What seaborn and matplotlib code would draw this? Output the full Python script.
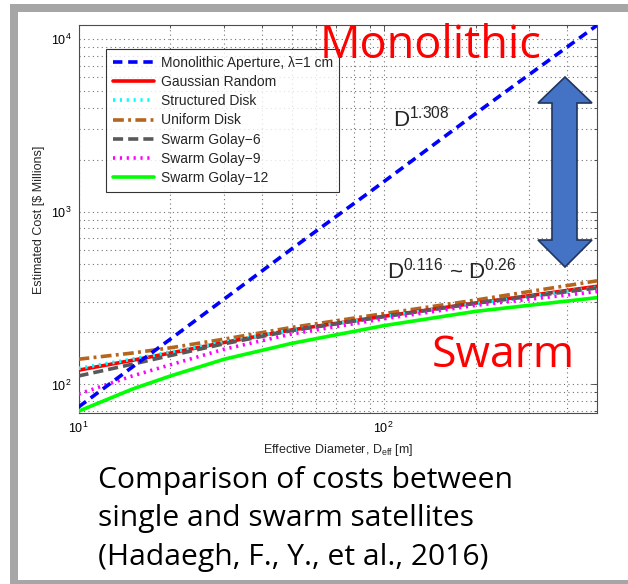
import matplotlib
matplotlib.use("Agg")
import matplotlib.pyplot as plt
import seaborn as sns
import pandas as pd
from matplotlib.patches import Polygon, Rectangle
from matplotlib.ticker import LogLocator, NullFormatter

# ---------------- data ----------------
diam = [10, 15, 20, 30, 50, 100, 200, 500]
monolithic = [74, 126, 183, 312, 610, 1490, 3700, 12000]
gaussian = [121, 138, 152, 175, 207, 248, 296, 370]
structured = [124, 140, 154, 176, 207, 247, 294, 365]
uniform = [140, 152, 163, 183, 214, 257, 308, 398]
golay6 = [112, 131, 147, 172, 205, 247, 295, 362]
golay9 = [88, 112, 130, 160, 196, 240, 287, 345]
golay12 = [70, 94, 112, 140, 173, 219, 265, 318]

series_names = ["Monolithic Aperture, \u03bb=1 cm", "Gaussian Random", "Structured Disk",
                "Uniform Disk", "Swarm Golay\u22126", "Swarm Golay\u22129", "Swarm Golay\u221212"]
series_vals = [monolithic, gaussian, structured, uniform, golay6, golay9, golay12]

# ---------------- style ----------------
sns.set_theme(style="white")
plt.rcParams["font.family"] = ["Liberation Sans", "DejaVu Sans"]
plt.rcParams["mathtext.fontset"] = "custom"
plt.rcParams["mathtext.rm"] = "Liberation Sans"
plt.rcParams["mathtext.it"] = "Liberation Sans:italic"
plt.rcParams["mathtext.bf"] = "Liberation Sans:bold"

W, H = 628, 584
fig = plt.figure(figsize=(W / 100, H / 100), dpi=100)
fig.patch.set_facecolor("white")

ax = fig.add_axes([78.5 / W, 1 - 413.4 / H, (597 - 78.5) / W, (413.4 - 25.3) / H])

styles = [
    dict(color="#0000ff", linestyle=(0, (2.6, 1.6)), linewidth=2.6, zorder=10),
    dict(color="#ff0000", linestyle="-", linewidth=2.6, zorder=5),
    dict(color="#00ffff", linestyle=(0, (0.6, 1.3)), linewidth=2.6, zorder=6),
    dict(color="#b5651d", linestyle=(0, (3.0, 1.2, 0.8, 1.2)), linewidth=2.6, zorder=4),
    dict(color="#595959", linestyle=(0, (2.8, 1.4)), linewidth=2.6, zorder=7),
    dict(color="#ff00ff", linestyle=(0, (0.6, 1.3)), linewidth=2.6, zorder=8),
    dict(color="#00ff00", linestyle="-", linewidth=2.6, zorder=9),
]

for name, vals, st in zip(series_names, series_vals, styles):
    df = pd.DataFrame({"D": diam, "cost": vals})
    sns.lineplot(data=df, x="D", y="cost", ax=ax, label=name, **st)

ax.set_xscale("log")
ax.set_yscale("log")
ax.set_xlim(10, 500)
ax.set_ylim(68, 12000)

ax.xaxis.set_minor_locator(LogLocator(base=10, subs=range(2, 10)))
ax.yaxis.set_minor_locator(LogLocator(base=10, subs=range(2, 10)))
ax.xaxis.set_minor_formatter(NullFormatter())
ax.yaxis.set_minor_formatter(NullFormatter())

ax.grid(True, which="both", color="0.45", linestyle=(0, (1, 3)), linewidth=0.8)
ax.tick_params(which="both", direction="in", top=True, right=True, colors="0.25",
               labelcolor="black", labelsize=9)
ax.tick_params(which="major", length=4, width=0.6, pad=5)
ax.tick_params(which="minor", length=2.5, width=0.6)
for sp in ax.spines.values():
    sp.set_color("0.3")
    sp.set_linewidth(0.8)

ax.set_xlabel("Effective Diameter, D$_{\\mathrm{eff}}$ [m]", fontsize=9, labelpad=5)
ax.set_ylabel("Estimated Cost [$ Millions]", fontsize=9, labelpad=4)

leg = ax.legend(loc="upper left", bbox_to_anchor=(0.054, 0.938), borderaxespad=0,
                fontsize=10, frameon=True, fancybox=False, edgecolor="black",
                handlelength=3.0, handletextpad=0.45, labelspacing=0.38,
                borderpad=0.45)
leg.get_frame().set_linewidth(0.8)
leg.set_zorder(20)

# ---------------- annotations ----------------
ax.text(393 / W, 1 - 126.7 / H, "D$^{1.308}$", transform=fig.transFigure,
        fontsize=16, ha="left", va="baseline", zorder=25)
ax.text(387 / W, 1 - 278 / H, "D$^{0.116}$ ~ D$^{0.26}$", transform=fig.transFigure,
        fontsize=16, ha="left", va="baseline", zorder=25)

fig.text(320 / W, 1 - 58.3 / H, "Monolithic", color="#ff0000", fontsize=32.5,
         family=["Open Sans", "DejaVu Sans"], ha="left", va="baseline", zorder=30)
fig.text(432 / W, 1 - 366.8 / H, "Swarm", color="#ff0000", fontsize=32,
         family=["Open Sans", "DejaVu Sans"], ha="left", va="baseline", zorder=30)

caption = ["Comparison of costs between", "single and swarm satellites",
           "(Hadaegh, F., Y., et al., 2016)"]
for i, line in enumerate(caption):
    fig.text(98 / W, 1 - (488 + 38.3 * i) / H, line, fontsize=21.6,
             family=["Open Sans", "DejaVu Sans"], ha="left", va="baseline", color="black")

# double arrow (pixel coords -> figure coords)
pts_px = [(565, 77), (592, 103), (577, 103), (577, 240), (592, 240), (565, 267),
          (538, 240), (552, 240), (552, 103), (538, 103)]
pts = [(x / W, 1 - y / H) for x, y in pts_px]
fig.patches.append(Polygon(pts, closed=True, facecolor="#4472c4", edgecolor="#1f3560",
                           linewidth=1.2, transform=fig.transFigure, zorder=40))

# gray frame
frame_col = "#a6a6a6"
fig.patches.append(Rectangle((10 / W, 0), 8 / W, 1 - 4 / H, facecolor=frame_col,
                             edgecolor="none", transform=fig.transFigure, zorder=0))
fig.patches.append(Rectangle((10 / W, 1 - 12 / H), 1 - 10 / W, 8 / H, facecolor=frame_col,
                             edgecolor="none", transform=fig.transFigure, zorder=0))
fig.patches.append(Rectangle((10 / W, 0), 1 - 10 / W, 4 / H, facecolor=frame_col,
                             edgecolor="none", transform=fig.transFigure, zorder=0))

fig.savefig("out.png", dpi=100, facecolor="white")
